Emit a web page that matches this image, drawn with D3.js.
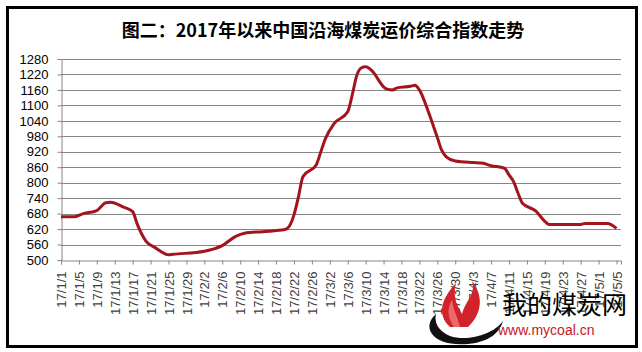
<!DOCTYPE html>
<html>
<head>
<meta charset="utf-8">
<script src="https://cdn.jsdelivr.net/npm/d3@7"></script>
<style>
  html, body { margin: 0; padding: 0; background: #fff; }
  svg { display: block; }
</style>
</head>
<body>
<div id="chart"></div>
<script>
// Chart data
const title = '图二：2017年以来中国沿海煤炭运价综合指数走势';
const dates = ['1/1', '1/4', '1/6', '1/9', '1/11', '1/12', '1/15', '1/17', '1/18', '1/20',
  '1/22', '1/25', '1/26', '2/2', '2/3', '2/6', '2/9', '2/11', '2/15', '2/20',
  '2/21', '2/22', '2/23', '2/24', '2/27', '2/28', '3/1', '3/3', '3/6', '3/7',
  '3/8', '3/9', '3/10', '3/12', '3/13', '3/14', '3/15', '3/16', '3/17', '3/20',
  '3/21', '3/22', '3/24', '3/26', '3/27', '3/28', '3/30', '4/3', '4/5', '4/7',
  '4/10', '4/11', '4/12', '4/13', '4/14', '4/17', '4/19', '4/20', '4/27', '4/28',
  '5/3', '5/5'];
const values = [668, 668, 680, 692, 722, 724, 705, 688, 640, 572,
  548, 520, 522, 534, 538, 556, 592, 604, 610, 618,
  632, 675, 745, 823, 870, 920, 970, 1030, 1075, 1140,
  1215, 1245, 1250, 1222, 1195, 1172, 1162, 1160, 1168, 1174,
  1178, 1160, 1075, 975, 925, 900, 884, 878, 876, 866,
  856, 830, 805, 760, 720, 690, 650, 638, 638, 642,
  642, 623];
const tickLabels = ['17/1/1', '17/1/5', '17/1/9', '17/1/13', '17/1/17', '17/1/21', '17/1/25',
  '17/1/29', '17/2/2', '17/2/6', '17/2/10', '17/2/14', '17/2/18', '17/2/22', '17/2/26',
  '17/3/2', '17/3/6', '17/3/10', '17/3/14', '17/3/18', '17/3/22', '17/3/26', '17/3/30',
  '17/4/3', '17/4/7', '17/4/11', '17/4/15', '17/4/19', '17/4/23', '17/4/27', '17/5/1', '17/5/5'];
const yTicks = d3.range(500, 1281, 60);

const width = 642;
const height = 352;

const parseMD = s => {
  const [m, d] = s.split('/').map(Number);
  return new Date(Date.UTC(2017, m - 1, d));
};
const parseLabel = s => parseMD(s.slice(3));

const data = dates.map((d, i) => ({ date: parseMD(d), value: values[i] }));

const svg = d3.select('#chart')
  .append('svg')
  .attr('width', width)
  .attr('height', height);

// frame
svg.append('rect')
  .attr('x', 7.5).attr('y', 7.5)
  .attr('width', 629).attr('height', 339)
  .attr('fill', '#fff')
  .attr('stroke', '#000')
  .attr('stroke-width', 3);

// title
svg.append('text')
  .attr('x', 323)
  .attr('y', 37)
  .attr('text-anchor', 'middle')
  .style('font-family', '"Noto Sans CJK SC", sans-serif')
  .style('font-weight', 'bold')
  .style('font-size', '18px')
  .text(title);

// scales
const x = d3.scaleUtc()
  .domain([parseMD('1/1'), parseMD('5/6')])
  .range([61, 621]);
const y = d3.scaleLinear()
  .domain([500, 1280])
  .range([260, 59]);

// gridlines
svg.append('g')
  .selectAll('line')
  .data(yTicks.slice(1))
  .enter()
  .append('line')
  .attr('x1', 61).attr('x2', 621)
  .attr('y1', d => Math.round(y(d)) + 0.5)
  .attr('y2', d => Math.round(y(d)) + 0.5)
  .attr('stroke', '#868686')
  .attr('stroke-width', 1);

// y axis
const yAxis = svg.append('g')
  .attr('transform', 'translate(61.5,0)')
  .call(d3.axisLeft(y).tickValues(yTicks).tickSize(4).tickPadding(9).tickFormat(d3.format('d')));
yAxis.select('.domain').attr('stroke', '#868686');
yAxis.selectAll('.tick line').attr('stroke', '#868686');
yAxis.selectAll('text')
  .style('font-family', '"Liberation Sans", Arial, sans-serif')
  .style('font-size', '13px')
  .attr('fill', '#000');

// x axis
const xAxis = svg.append('g')
  .attr('transform', 'translate(0,260.5)')
  .call(d3.axisBottom(x)
    .tickValues(tickLabels.map(parseLabel))
    .tickSize(4)
    .tickFormat((d, i) => tickLabels[i]));
xAxis.select('.domain').attr('stroke', '#868686');
xAxis.selectAll('.tick line').attr('stroke', '#868686');
xAxis.selectAll('text')
  .style('font-family', '"Liberation Sans", Arial, sans-serif')
  .style('font-size', '13px')
  .attr('fill', '#404040')
  .attr('transform', 'rotate(-90)')
  .attr('x', -11)
  .attr('y', 0)
  .attr('dy', '0.35em')
  .style('text-anchor', 'end');

// the index line
const line = d3.line()
  .x(d => x(d.date))
  .y(d => y(d.value))
  .curve(d3.curveMonotoneX);

svg.append('path')
  .datum(data)
  .attr('d', line)
  .attr('fill', 'none')
  .attr('stroke', '#a3141c')
  .attr('stroke-width', 3)
  .attr('stroke-linejoin', 'round');

// watermark logo
const logo = svg.append('g');
logo.append('path')
  .attr('d', 'M436,314 C420,328 434,347 468,344 C490,342 500,332 503,321 C494,334 468,342 450,336 C438,331 434,322 436,314 Z')
  .attr('fill', '#111');
logo.append('path')
  .attr('d', 'M450,327 C436,314 442,298 456,283 C452,298 458,306 462,314 C466,300 476,294 472,281 C484,296 482,314 468,327 Z')
  .attr('fill', '#d2222a');
logo.append('path')
  .attr('d', 'M454,327 C446,316 448,306 452,300 C454,312 458,318 460,327 Z')
  .attr('fill', '#e86a6a');
logo.append('text')
  .attr('x', 502)
  .attr('y', 314)
  .style('font-family', '"Noto Sans CJK SC", sans-serif')
  .style('font-size', '25px')
  .attr('fill', '#000')
  .text('我的煤炭网');
logo.append('text')
  .attr('x', 498)
  .attr('y', 335)
  .style('font-family', '"Liberation Sans", Arial, sans-serif')
  .style('font-size', '14px')
  .attr('fill', '#c8161d')
  .text('www.mycoal.cn');
</script>
</body>
</html>
